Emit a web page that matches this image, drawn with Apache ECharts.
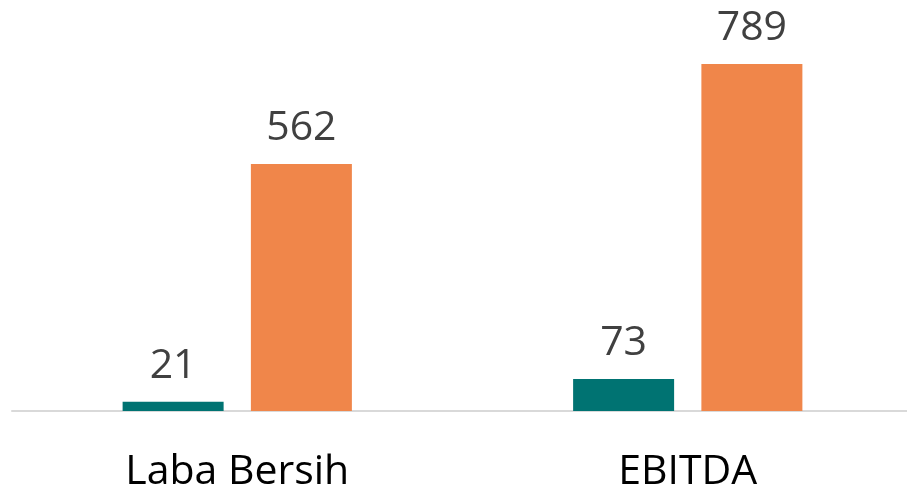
<!DOCTYPE html>
<html>
<head>
<meta charset="utf-8">
<script src="https://cdn.jsdelivr.net/npm/echarts@6/dist/echarts.min.js"></script>
<style>html,body{margin:0;padding:0;background:#fff}#c{width:907px;height:493px}</style>
</head>
<body>
<div id="c"></div>
<script>
const categories = ['Laba Bersih', 'EBITDA'];
const seriesA = [21, 73];
const seriesB = [562, 789];
const colors = ['#007372', '#F0864A'];

const chart = echarts.init(document.getElementById('c'), null, {renderer: 'canvas'});
const labelStyle = {
  show: true, position: 'top', distance: 15,
  fontFamily: 'Open Sans', fontSize: 41, color: '#404040'
};
chart.setOption({
  animation: false,
  grid: {left: 12, top: 10, width: 901, bottom: 82, containLabel: false, outerBoundsMode: 'none'},
  xAxis: {
    type: 'category', data: categories,
    axisLine: {show: true, lineStyle: {color: '#d9d9d9', width: 2}},
    axisTick: {show: false},
    axisLabel: {fontFamily: 'Open Sans', fontSize: 41, color: '#000', margin: 41}
  },
  yAxis: {type: 'value', min: 0, max: 912, show: false, splitLine: {show: false}},
  series: [
    {type: 'bar', data: seriesA, barWidth: 101, barGap: '27%', itemStyle: {color: colors[0]}, label: labelStyle},
    {type: 'bar', data: seriesB, barWidth: 101, barGap: '27%', itemStyle: {color: colors[1]}, label: labelStyle}
  ]
});
</script>
</body>
</html>
